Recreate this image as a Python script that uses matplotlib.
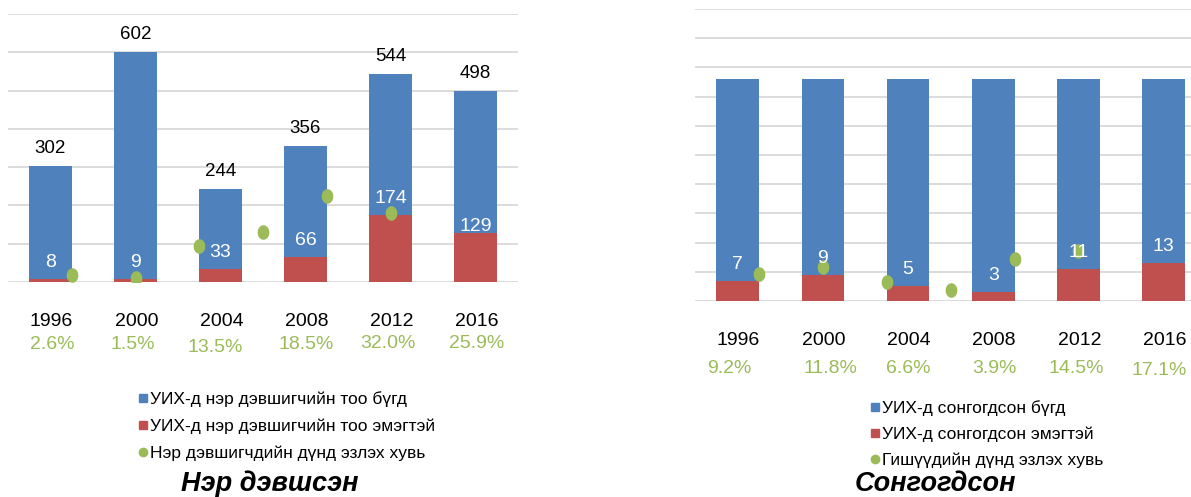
import numpy as np
import matplotlib.pyplot as plt
from matplotlib import font_manager
from matplotlib.lines import Line2D

years = ['1996', '2000', '2004', '2008', '2012', '2016']
cand_total = [302, 602, 244, 356, 544, 498]
cand_women = [8, 9, 33, 66, 174, 129]
cand_pct = [2.6, 1.5, 13.5, 18.5, 32.0, 25.9]
elec_total = [76, 76, 76, 76, 76, 76]
elec_women = [7, 9, 5, 3, 11, 13]
elec_pct = [9.2, 11.8, 6.6, 3.9, 14.5, 17.1]

cand_legend = ['УИХ-д нэр дэвшигчийн тоо бүгд',
               'УИХ-д нэр дэвшигчийн тоо эмэгтэй',
               'Нэр дэвшигчдийн дүнд эзлэх хувь']
elec_legend = ['УИХ-д сонгогдсон бүгд',
               'УИХ-д сонгогдсон эмэгтэй',
               'Гишүүдийн дүнд эзлэх хувь']
titles = ['Нэр дэвшсэн', 'Сонгогдсон']

BLUE = '#4F81BD'
RED = '#C0504D'
GREEN = '#9BBB59'
GRID = '#D9D9D9'

names = {f.name for f in font_manager.fontManager.ttflist}
NARROW = 'Liberation Sans Narrow' if 'Liberation Sans Narrow' in names else 'Liberation Sans'
plt.rcParams['font.family'] = [NARROW, 'DejaVu Sans']

W, H = 1191, 497
fig = plt.figure(figsize=(W / 100, H / 100), dpi=100)

# slightly tall oval dot like the original
theta = np.linspace(0, 2 * np.pi, 41)
oval = np.column_stack([0.78 * np.cos(theta), np.sin(theta)])


def panel(box, ymax, step, total, women, pct, show_total, women_dy,
          year_dy, pct_dy, pct_dx, pct_ddy, leg_labels, leg_xy, leg_space, title, title_x):
    left, top, right, bottom = box
    ax = fig.add_axes([left / W, 1 - bottom / H, (right - left) / W, (bottom - top) / H])
    x = np.arange(len(years))
    ax.bar(x, total, width=0.5, color=BLUE, zorder=2)
    ax.bar(x, women, width=0.5, color=RED, zorder=3)
    ax.set_xlim(-0.5, len(years) - 0.5)
    ax.set_ylim(0, ymax)
    ax.set_yticks(np.arange(0, ymax + 1, step))
    ax.yaxis.grid(True, color=GRID, lw=1.3)
    ax.set_axisbelow(True)
    for s in ax.spines.values():
        s.set_visible(False)
    ax.tick_params(length=0, labelleft=False, labelbottom=False)

    ax2 = ax.twinx()
    ax2.set_ylim(0, 100)
    ax2.axis('off')
    dot_x = -0.5 + 0.75 * np.arange(1, len(pct) + 1)
    ax2.plot(dot_x, pct, ls='none', marker=oval, ms=9.5, color=GREEN, zorder=2)

    for i in range(len(years)):
        if show_total:
            ax2.annotate(str(total[i]), xy=(i, total[i]), xycoords=ax.transData,
                         xytext=(0, 13), textcoords='offset pixels',
                         ha='center', va='baseline', fontsize=13.5, color='black')
        ax2.annotate(str(women[i]), xy=(i, women[i]), xycoords=ax.transData,
                     xytext=(0, women_dy[i]), textcoords='offset pixels',
                     ha='center', va='baseline', fontsize=14, color='white', zorder=4)
        ax2.annotate(years[i], xy=(i, 0), xycoords=ax.transData,
                     xytext=(1, -year_dy), textcoords='offset pixels',
                     ha='center', va='baseline', fontsize=14, color='black')
        ax2.annotate(f'{pct[i]:.1f}%', xy=(i, 0), xycoords=ax.transData,
                     xytext=(pct_dx[i], -pct_dy - pct_ddy[i]), textcoords='offset pixels',
                     ha='center', va='baseline', fontsize=14, color=GREEN)

    handles = [Line2D([], [], ls='none', marker='s', ms=5.2, color=BLUE),
               Line2D([], [], ls='none', marker='s', ms=5.2, color=RED),
               Line2D([], [], ls='none', marker='o', ms=6, color=GREEN)]
    fig.legend(handles, leg_labels, loc='upper left',
               bbox_to_anchor=(leg_xy[0] / W, 1 - leg_xy[1] / H),
               frameon=False, fontsize=12.5, handlelength=0.5, handletextpad=0.15,
               labelspacing=leg_space, borderpad=0, borderaxespad=0)

    fig.text(title_x / W, 6 / H, title, ha='center', va='baseline', fontsize=19.5,
             fontweight='bold', fontstyle='italic', family=['Liberation Sans', 'DejaVu Sans'])
    return ax


panel((8, 14, 518, 282), 700, 100, cand_total, cand_women, cand_pct, True,
      [12, 12, 12, 12, 12, 2], 43.5, 67,
      [2, -3, -5, 1, -3, 1], [0, 0, 2.5, 0, -1, -1.5],
      cand_legend, (139, 391), 0.68, titles[0], 270)

panel((695, 9, 695 + 6 * 85.2, 301), 100, 10, elec_total, elec_women, elec_pct, False,
      [12, 12, 12, 12, 12, 12], 44, 72,
      [-8, 8, 0, 1.5, -2, -4], [0, 0, 0, 0, 0, 2],
      elec_legend, (871, 400), 0.6, titles[1], 935)

fig.savefig('out.png', dpi=100)
